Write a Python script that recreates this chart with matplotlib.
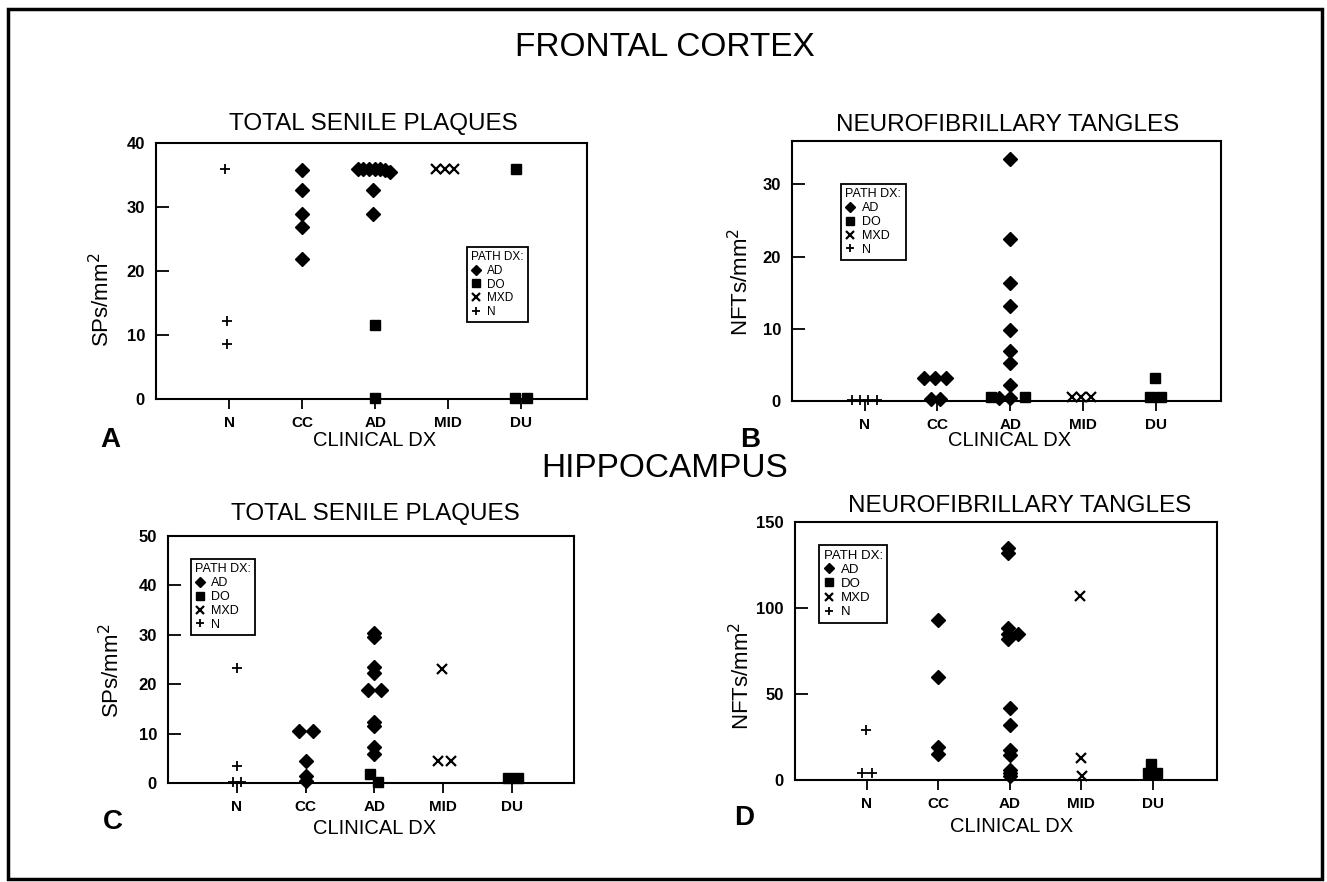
import matplotlib
matplotlib.use('Agg')
import matplotlib.pyplot as plt
from matplotlib.lines import Line2D
from matplotlib.patches import Rectangle

plt.rcParams['font.family'] = ['Liberation Sans', 'DejaVu Sans']

groups = ['N', 'CC', 'AD', 'MID', 'DU']
path_dx = ['AD', 'DO', 'MXD', 'N']

# every point: (clinical dx, small side offset, value)
# A - frontal cortex, total senile plaques
fc_sp_ad = [('CC', 0, 35.8), ('CC', 0, 32.6), ('CC', 0, 28.9), ('CC', 0, 26.8), ('CC', 0, 21.8),
            ('AD', -0.23, 36), ('AD', -0.17, 36), ('AD', -0.09, 36), ('AD', 0, 36),
            ('AD', 0.06, 36), ('AD', 0.14, 35.8), ('AD', 0.21, 35.5),
            ('AD', -0.03, 32.6), ('AD', -0.03, 28.9)]
fc_sp_do = [('AD', 0, 11.5), ('AD', 0, 0.2), ('DU', -0.07, 36), ('DU', -0.09, 0.2), ('DU', 0.08, 0.2)]
fc_sp_mxd = [('MID', -0.17, 36), ('MID', -0.05, 36), ('MID', 0.08, 36)]
fc_sp_n = [('N', -0.05, 36), ('N', -0.03, 12.2), ('N', -0.03, 8.6)]

# B - frontal cortex, neurofibrillary tangles
fc_nft_ad = [('CC', -0.18, 3.2), ('CC', -0.03, 3.2), ('CC', 0.12, 3.2), ('CC', -0.09, 0.3), ('CC', 0.04, 0.3),
             ('AD', 0, 33.5), ('AD', 0, 22.4), ('AD', 0, 16.4), ('AD', 0, 13.1), ('AD', 0, 9.9),
             ('AD', 0, 6.95), ('AD', 0, 5.2), ('AD', 0, 2.2), ('AD', 0, 0.4), ('AD', -0.16, 0.4)]
fc_nft_do = [('AD', -0.26, 0.5), ('AD', 0.2, 0.5), ('DU', -0.01, 3.2), ('DU', -0.08, 0.5), ('DU', 0.08, 0.5)]
fc_nft_mxd = [('MID', -0.15, 0.5), ('MID', -0.02, 0.5), ('MID', 0.11, 0.5)]
fc_nft_n = [('N', -0.18, 0.2), ('N', -0.07, 0.2), ('N', 0.05, 0.2), ('N', 0.17, 0.2)]

# C - hippocampus, total senile plaques
hc_sp_ad = [('CC', -0.1, 10.6), ('CC', 0.1, 10.6), ('CC', 0.01, 4.5), ('CC', 0, 1.4), ('CC', 0, 0.4),
            ('AD', 0, 30.3), ('AD', 0, 29.5), ('AD', 0, 23.5), ('AD', 0, 22.3),
            ('AD', -0.09, 18.8), ('AD', 0.09, 18.8), ('AD', 0, 12.3), ('AD', 0, 11.5),
            ('AD', 0, 7.3), ('AD', 0, 5.9)]
hc_sp_do = [('AD', -0.07, 1.8), ('AD', 0.05, 0.3), ('DU', -0.06, 1.0), ('DU', 0.08, 1.0)]
hc_sp_mxd = [('MID', -0.02, 23.0), ('MID', -0.08, 4.5), ('MID', 0.11, 4.5)]
hc_sp_n = [('N', 0, 23.2), ('N', 0, 3.4), ('N', -0.05, 0.3), ('N', 0.06, 0.3)]

# D - hippocampus, neurofibrillary tangles
hc_nft_ad = [('CC', 0, 93.1), ('CC', 0, 60.0), ('CC', 0, 19.4), ('CC', 0, 15.2),
             ('AD', -0.02, 134.6), ('AD', -0.02, 132.1), ('AD', -0.02, 88.5), ('AD', -0.02, 85.1),
             ('AD', 0.12, 85.0), ('AD', -0.02, 82.2), ('AD', 0, 42.1), ('AD', 0, 32.2),
             ('AD', 0, 17.4), ('AD', 0, 14.8), ('AD', 0, 5.9), ('AD', 0, 4.0), ('AD', 0, 2.6)]
hc_nft_do = [('DU', -0.02, 9.5), ('DU', -0.06, 4.0), ('DU', 0.06, 4.0)]
hc_nft_mxd = [('MID', -0.02, 107.0), ('MID', 0, 12.8), ('MID', 0.01, 2.6)]
hc_nft_n = [('N', -0.01, 29.0), ('N', -0.07, 4.0), ('N', 0.07, 4.0)]

mstyle = {
    'AD': dict(marker='D', ms=7),
    'DO': dict(marker='s', ms=6.5),
    'MXD': dict(marker='x', ms=7.5, mew=1.6),
    'N': dict(marker='+', ms=7.5, mew=1.3),
}

W, H = 1327, 882
fig = plt.figure(figsize=(W / 100, H / 100), dpi=100)


def px_box(l, t, r, b):
    return [l / W, 1 - b / H, (r - l) / W, (b - t) / H]


def panel(box, ymax, yticks, series, leg_pos, leg_fs):
    ax = fig.add_axes(px_box(*box))
    for dx, pts in zip(path_dx, series):
        xs = [groups.index(g) + 1 + j for g, j, v in pts]
        ys = [v for g, j, v in pts]
        ax.plot(xs, ys, ls='none', color='black', clip_on=False, **mstyle[dx])
    ax.set_xlim(0, 5.9)
    ax.set_ylim(0, ymax)
    ax.set_xticks(range(1, 6))
    ax.set_xticklabels(groups, fontweight='bold')
    ax.set_yticks(yticks)
    for lab in ax.get_yticklabels():
        lab.set_fontweight('bold')
    ax.tick_params(axis='x', direction='out', length=7, width=1.3, labelsize=11, pad=5)
    ax.tick_params(axis='y', direction='in', length=9, width=1.3, labelsize=12, pad=8)
    for s in ax.spines.values():
        s.set_linewidth(1.5)
    handles = [Line2D([], [], ls='none', color='black', **mstyle[k]) for k in path_dx]
    leg = ax.legend(handles, path_dx, title='PATH DX:', loc='upper left', bbox_to_anchor=leg_pos,
                    borderaxespad=0, fancybox=False, edgecolor='black', framealpha=1,
                    fontsize=leg_fs, title_fontsize=leg_fs, markerscale=0.8,
                    handlelength=0.8, handletextpad=0.5, labelspacing=0.15,
                    borderpad=0.35, alignment='left')
    leg.get_frame().set_linewidth(1.3)
    return ax


panel((156, 143, 587, 399), 40, [0, 10, 20, 30, 40],
      [fc_sp_ad, fc_sp_do, fc_sp_mxd, fc_sp_n], (0.722, 0.594), 8.5)
panel((792, 141, 1221, 401), 36, [0, 10, 20, 30],
      [fc_nft_ad, fc_nft_do, fc_nft_mxd, fc_nft_n], (0.114, 0.835), 9)
panel((168, 536, 574, 783), 50, [0, 10, 20, 30, 40, 50],
      [hc_sp_ad, hc_sp_do, hc_sp_mxd, hc_sp_n], (0.056, 0.907), 9)
panel((795, 522, 1217, 780), 150, [0, 50, 100, 150],
      [hc_nft_ad, hc_nft_do, hc_nft_mxd, hc_nft_n], (0.057, 0.911), 9.5)


def ftext(x, y, s, **kw):
    fig.text(x / W, 1 - y / H, s, ha='center', va='center', **kw)


ftext(665, 48, 'FRONTAL CORTEX', fontsize=24)
ftext(665, 468, 'HIPPOCAMPUS', fontsize=24)
ftext(373, 124, 'TOTAL SENILE PLAQUES', fontsize=17.5)
ftext(1008, 125, 'NEUROFIBRILLARY TANGLES', fontsize=17.5)
ftext(375, 514, 'TOTAL SENILE PLAQUES', fontsize=17.5)
ftext(1020, 506, 'NEUROFIBRILLARY TANGLES', fontsize=17.5)
for x, y in [(375, 441), (1010, 441), (375, 828), (1012, 826)]:
    ftext(x, y, 'CLINICAL DX', fontsize=14.5)
for x, y, s in [(110, 440, 'A'), (750, 440, 'B'), (113, 822, 'C'), (744, 818, 'D')]:
    ftext(x, y, s, fontsize=20, fontweight='bold')
ftext(102, 300, 'SPs/mm$^2$', fontsize=16, rotation=90)
ftext(741, 282, 'NFTs/mm$^2$', fontsize=16, rotation=90)
ftext(112, 671, 'SPs/mm$^2$', fontsize=16, rotation=90)
ftext(742, 676, 'NFTs/mm$^2$', fontsize=16, rotation=90)

fig.patches.append(Rectangle((8 / W, 1 - 879 / H), 1314 / W, 870 / H, fill=False,
                             lw=2.5, ec='black', transform=fig.transFigure))

fig.savefig('out.png', dpi=100, facecolor='white')
